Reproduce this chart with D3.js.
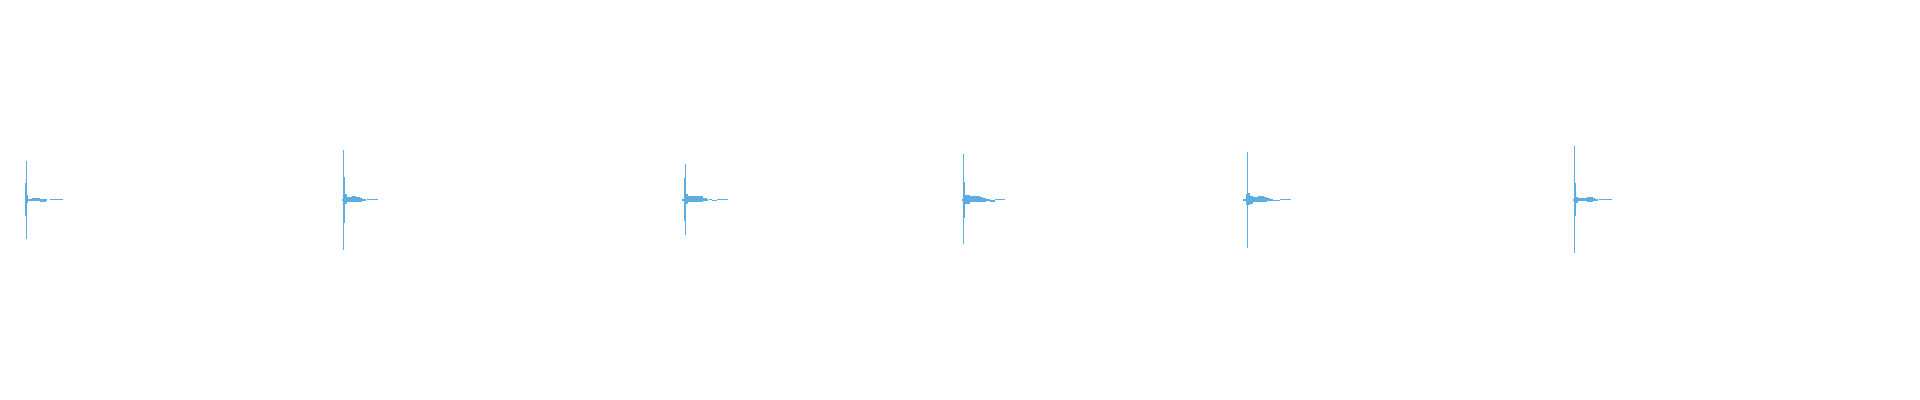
<!DOCTYPE html>
<html>
<head>
<meta charset="utf-8">
<script src="https://cdn.jsdelivr.net/npm/d3@7.9.0/dist/d3.min.js"></script>
<style>
  html, body { margin: 0; padding: 0; background: #fff; }
  svg { display: block; }
</style>
</head>
<body>
<svg id="wave" width="1920" height="400"></svg>
<script>
// each click = one run of 5 ms bins, starting at onsetMs
const binMs = 5;
const durationMs = 9600;
const onsetMs = [125, 1710, 3410, 4810, 6215, 7865];

// max / min amplitude per bin (null = no signal)
const high1 = [0.085, 0.195, 0.025, 0.006, 0.006, 0.006, 0.006, 0.0115, 0.0115, 0.0115, 0.0115, 0.0115, 0.0115, 0.0115, 0.0115, 0.004, 0.004, 0.004, 0.004, 0.004, 0.004, 0.003, null, null, null, 0.003, 0.003, 0.003, 0.003, 0.003, 0.003, 0.003, 0.003, 0.003, 0.003, 0.003, 0.003, 0.003];
const low1  = [-0.08, -0.195, -0.015, -0.006, -0.006, -0.006, -0.006, -0.005, -0.005, -0.005, -0.005, -0.005, -0.005, -0.005, -0.005, -0.009, -0.009, -0.009, -0.009, -0.009, -0.009, -0.003, null, null, null, -0.002, -0.002, -0.002, -0.002, -0.002, -0.002, -0.002, -0.002, -0.002, -0.002, -0.002, -0.002, -0.002];

const high2 = [0.003, 0.25, 0.115, 0.028, 0.028, 0.017, 0.017, 0.017, 0.017, 0.017, 0.022, 0.022, 0.022, 0.022, 0.017, 0.017, 0.017, 0.017, 0.011, 0.011, 0.006, 0.006, 0.003, 0.003, null, 0.003, 0.003, 0.003, 0.003, 0.003, 0.003, 0.003, 0.003, 0.003, 0.003, 0.003];
const low2  = [-0.003, -0.25, -0.115, -0.022, -0.022, -0.012, -0.012, -0.012, -0.012, -0.012, -0.012, -0.012, -0.012, -0.012, -0.012, -0.012, -0.012, -0.012, -0.008, -0.008, -0.006, -0.006, -0.003, -0.003, null, -0.002, -0.002, -0.002, -0.002, -0.002, -0.002, -0.002, -0.002, -0.002, -0.002, -0.002];

const high3 = [0.004, 0.006, 0.11, 0.18, 0.028, 0.028, 0.022, 0.022, 0.022, 0.022, 0.022, 0.022, 0.022, 0.022, 0.022, 0.022, 0.022, 0.022, 0.018, 0.018, 0.018, 0.012, 0.012, 0.012, 0.012, 0.003, null, 0.003, 0.003, 0.003, 0.002, 0.002, 0.002, 0.002, 0.002, 0.003, 0.003, 0.003, 0.003, 0.003, 0.003, 0.003, 0.003, 0.003, 0.003, 0.003];
const low3  = [-0.004, -0.006, -0.105, -0.175, -0.022, -0.022, -0.012, -0.012, -0.012, -0.012, -0.012, -0.012, -0.012, -0.012, -0.012, -0.012, -0.012, -0.012, -0.01, -0.01, -0.01, -0.007, -0.007, -0.007, -0.007, -0.003, null, -0.002, -0.002, -0.002, -0.007, -0.007, -0.007, -0.007, -0.007, -0.002, -0.002, -0.002, -0.002, -0.002, -0.002, -0.002, -0.002, -0.002, -0.002, -0.002];

const high4 = [0.004, 0.23, 0.09, 0.025, 0.025, 0.025, 0.025, 0.025, 0.02, 0.02, 0.02, 0.02, 0.02, 0.022, 0.022, 0.022, 0.022, 0.022, 0.015, 0.015, 0.015, 0.01, 0.01, 0.01, 0.003, 0.003, 0.003, 0.003, 0.002, 0.002, 0.002, 0.002, 0.002, 0.003, 0.003, 0.003, 0.003, 0.003, 0.003, 0.003, 0.003, 0.003, 0.003];
const low4  = [-0.004, -0.22, -0.09, -0.022, -0.022, -0.022, -0.022, -0.022, -0.012, -0.012, -0.012, -0.012, -0.012, -0.012, -0.012, -0.012, -0.012, -0.012, -0.01, -0.01, -0.01, -0.008, -0.008, -0.008, -0.003, -0.003, -0.003, -0.003, -0.008, -0.008, -0.008, -0.008, -0.008, -0.002, -0.002, -0.002, -0.002, -0.002, -0.002, -0.002, -0.002, -0.002, -0.002];

const high5 = [0.005, 0.003, 0.006, 0.028, 0.24, 0.034, 0.034, 0.022, 0.022, 0.022, 0.017, 0.017, 0.017, 0.017, 0.017, 0.022, 0.022, 0.022, 0.022, 0.022, 0.022, 0.017, 0.017, 0.017, 0.012, 0.012, 0.012, 0.003, 0.003, 0.003, 0.002, 0.002, 0.002, 0.002, 0.002, 0.002, 0.002, 0.003, 0.003, 0.003, 0.003, 0.003, 0.003, 0.003, 0.003, 0.003, 0.003, 0.003];
const low5  = [-0.005, -0.006, -0.004, -0.025, -0.24, -0.025, -0.025, -0.02, -0.02, -0.02, -0.012, -0.012, -0.012, -0.012, -0.012, -0.012, -0.012, -0.012, -0.012, -0.012, -0.012, -0.01, -0.01, -0.01, -0.007, -0.007, -0.007, -0.003, -0.003, -0.003, -0.007, -0.007, -0.007, -0.007, -0.007, -0.007, -0.007, -0.002, -0.002, -0.002, -0.002, -0.002, -0.002, -0.002, -0.002, -0.002, -0.002, -0.002];

const high6 = [0.004, 0.27, 0.085, 0.017, 0.017, 0.009, 0.009, 0.009, 0.009, 0.009, 0.009, 0.009, 0.009, 0.009, 0.017, 0.017, 0.017, 0.017, 0.017, 0.017, 0.01, 0.01, 0.003, 0.003, 0.003, null, 0.003, 0.003, 0.003, 0.003, 0.003, 0.003, 0.003, 0.003, 0.003, 0.003, 0.003, 0.003, 0.003];
const low6  = [-0.004, -0.265, -0.08, -0.013, -0.013, -0.005, -0.005, -0.005, -0.005, -0.005, -0.005, -0.005, -0.005, -0.005, -0.008, -0.008, -0.008, -0.008, -0.008, -0.008, -0.006, -0.006, -0.003, -0.003, -0.003, null, -0.002, -0.002, -0.002, -0.002, -0.002, -0.002, -0.002, -0.002, -0.002, -0.002, -0.002, -0.002, -0.002];

const highs = [high1, high2, high3, high4, high5, high6];
const lows = [low1, low2, low3, low4, low5, low6];

const width = 1920, height = 400;
const svg = d3.select("#wave");

let x = d3.scaleLinear().domain([0, durationMs]).range([0, width]);
let y = d3.scaleLinear().domain([-1, 1]).range([height, 0]);

// flatten into bins
let bins = [];
onsetMs.forEach((t0, e) => {
  highs[e].forEach((hi, i) => {
    let lo = lows[e][i];
    if (hi == null || lo == null) return;
    bins.push({ t: t0 + i * binMs, hi, lo });
  });
});

svg.append("g")
  .attr("shape-rendering", "crispEdges")
  .selectAll("rect")
  .data(bins)
  .join("rect")
  .attr("x", d => x(d.t))
  .attr("width", x(binMs) - x(0))
  .attr("y", d => Math.round(y(d.hi)))
  .attr("height", d => Math.max(1, Math.round(y(d.lo)) - Math.round(y(d.hi))))
  .attr("fill", "#5dade2");
</script>
</body>
</html>
